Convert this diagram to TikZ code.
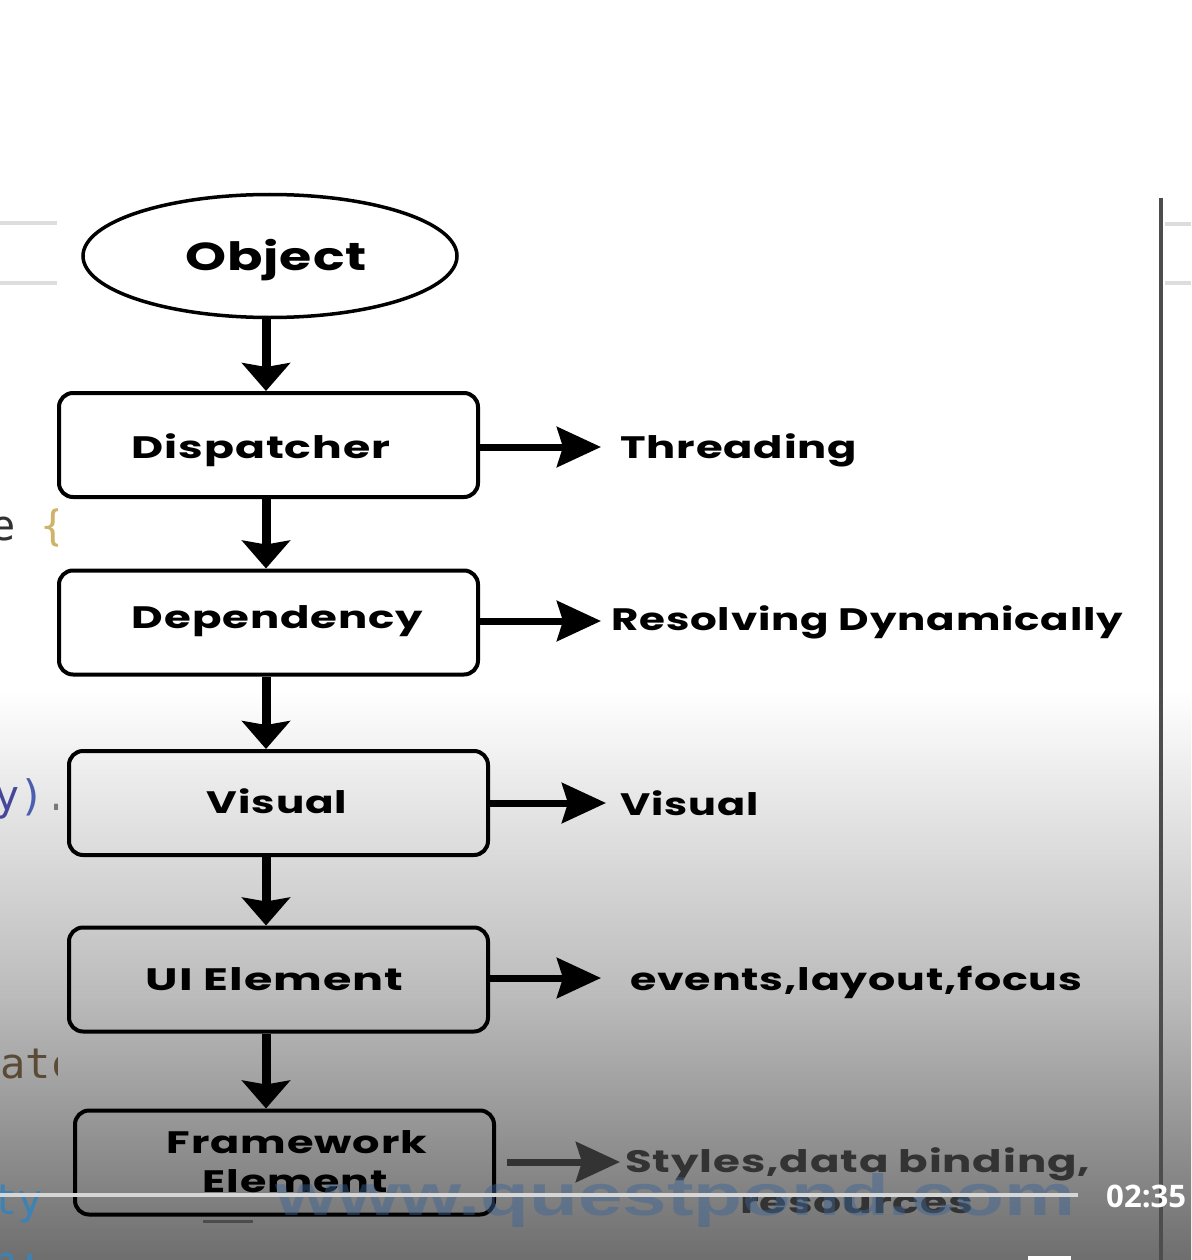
\documentclass[tikz,border=0pt]{standalone}
\usepackage{fontspec}
\usepackage{graphicx}
\usetikzlibrary{arrows.meta,shapes.geometric}
\newfontfamily\dfont{Poppins}[LetterSpace=2]
\newfontfamily\codefont{DejaVu Sans Mono}
\newfontfamily\wmfont{Liberation Sans}
\newfontfamily\uifont{Open Sans}
\newcommand\fitw[2]{\resizebox{#1}{\height}{#2}}
\definecolor{bgmid}{RGB}{186,186,186}
\definecolor{bgbot}{RGB}{110,110,110}
\definecolor{sepline}{RGB}{221,221,221}
\definecolor{vline}{RGB}{77,77,77}
\definecolor{wmblue}{RGB}{60,100,150}
\definecolor{barcol}{RGB}{214,214,214}
\definecolor{codedark}{RGB}{50,50,50}
\definecolor{codeyel}{RGB}{205,180,105}
\definecolor{codepur}{RGB}{70,70,155}
\definecolor{codeblue}{RGB}{75,95,175}
\definecolor{codegray}{RGB}{120,120,120}
\definecolor{codebrown}{RGB}{90,75,55}
\definecolor{codeteal}{RGB}{60,130,180}
\begin{document}
\begin{tikzpicture}[x=1pt,y=-1pt,
  box/.style={draw=black, line width=4pt, rounded corners=14pt, minimum width=419pt, minimum height=104pt, inner sep=0pt},
  oval/.style={ellipse, draw=black, line width=3.5pt, minimum width=374pt, minimum height=123pt, inner sep=0pt},
  lbl/.style={inner sep=0pt, anchor=base, font=\dfont\bfseries\fontsize{31}{39}\selectfont},
  rlbl/.style={lbl, anchor=base west},
  darrow/.style={line width=9pt, -{Stealth[length=28pt,width=48pt,inset=4pt]}},
  rarrow/.style={line width=7pt, -{Stealth[length=44pt,width=40pt,inset=6pt]}},
  code/.style={inner sep=0pt, anchor=base west, font=\codefont\fontsize{42}{48}\selectfont}
]
\useasboundingbox (0,0) rectangle (1191,1260);
% background
\fill[white] (0,0) rectangle (1191,1260);
\shade[top color=white, bottom color=bgmid] (0,690) rectangle (1191,1000.5);
\shade[top color=bgmid, bottom color=bgbot] (0,1000) rectangle (1191,1260);
% separator lines of the underlying editor
\draw[sepline, line width=4pt] (0,223) -- (57,223) (0,283) -- (57,283);
\draw[sepline, line width=4pt] (1165,224) -- (1191,224) (1165,283) -- (1191,283);
\draw[vline, line width=4.5pt] (1161,198) -- (1161,1260);
% code fragments at the left edge
\begin{scope}
\clip (0,0) rectangle (57,1260);
\node[code] (c1) at (-10,540) {\textcolor{codedark}{e} \textcolor{codeyel}{\{}};
\node[code] (c2) at (-6,810) {\textcolor{codepur}{y}\textcolor{codeblue}{)}\textcolor{codegray}{.}};
\node[code, text=codebrown] (c3) at (0,1078) {atc};
\node[code, text=codeteal] (c4) at (-8,1214) {ty};
\node[code, text=codeteal] (c5) at (-8,1276) {n:};
\end{scope}
% diagram shapes
\node[oval] (obj) at (270,256) {};
\node[box] (disp) at (268.5,445) {};
\node[box] (dep) at (268.5,622.5) {};
\node[box] (vis) at (278.5,803) {};
\node[box] (uie) at (278.5,979.5) {};
\node[box] (fwe) at (284.5,1162.5) {};
\draw[black!70, line width=3pt] (203,1221) -- (253,1221);
% labels in shapes
\node[lbl, font=\dfont\bfseries\fontsize{39}{44}\selectfont] (objt) at (276,270) {\fitw{182pt}{Object}};
\node[lbl] (dispt) at (261,458) {\fitw{258pt}{Dispatcher}};
\node[lbl] (dept) at (277.5,628) {\fitw{291pt}{Dependency}};
\node[lbl] (vist) at (277,813) {\fitw{140pt}{Visual}};
\node[lbl] (uiet) at (274.5,990) {\fitw{257pt}{UI Element}};
\node[lbl] (fwt1) at (297,1153) {\fitw{260pt}{Framework}};
\node[lbl] (fwt2) at (295.5,1192) {\fitw{185pt}{Element}};
% labels on the right
\node[rlbl] (thr) at (620,458) {\fitw{237pt}{Threading}};
\node[rlbl] (res) at (611,630) {\fitw{512pt}{Resolving Dynamically}};
\node[rlbl] (visr) at (620,815) {\fitw{138pt}{Visual}};
\node[rlbl] (evt) at (630,990) {\fitw{452pt}{events,layout,focus}};
\node[rlbl, text=black!80] (sty) at (625,1172) {\fitw{465pt}{Styles,data binding,}};
\node[rlbl, text=black!80] (rsc) at (740,1213) {\fitw{233pt}{resources}};
% down connectors
\coordinate (ax) at (266,0);
\draw[darrow] (obj.south -| ax) -- (disp.north -| ax);
\draw[darrow] (disp.south -| ax) -- (dep.north -| ax);
\draw[darrow] (dep.south -| ax) -- (vis.north -| ax);
\draw[darrow] (vis.south -| ax) -- (uie.north -| ax);
\draw[darrow] (uie.south -| ax) -- (fwe.north -| ax);
% right connectors
\coordinate (t1) at (601,447);
\coordinate (t2) at (601,621);
\coordinate (t3) at (606,803);
\coordinate (t4) at (601,978);
\coordinate (t5) at (620,1162);
\draw[rarrow] (disp.east |- t1) -- (t1);
\draw[rarrow] (dep.east |- t2) -- (t2);
\draw[rarrow] (vis.east |- t3) -- (t3);
\draw[rarrow] (uie.east |- t4) -- (t4);
\draw[rarrow, draw=black!80, shorten <=11pt] (fwe.east |- t5) -- (t5);
% video overlay: watermark, progress bar, time
\node[inner sep=0pt, anchor=base west, text=wmblue, text opacity=0.45, font=\wmfont\bfseries\fontsize{58}{60}\selectfont] (wm) at (275,1215) {\fitw{800pt}{www.questpond.com}};
\draw[barcol, line width=4pt] (0,1195) -- (1078,1195);
\node[inner sep=0pt, anchor=base west, text=white, font=\uifont\bfseries\fontsize{31}{34}\selectfont] (time) at (1106,1207) {\fitw{80pt}{02:35}};
\fill[white] (1028,1256) rectangle (1071,1260);
\end{tikzpicture}
\end{document}
